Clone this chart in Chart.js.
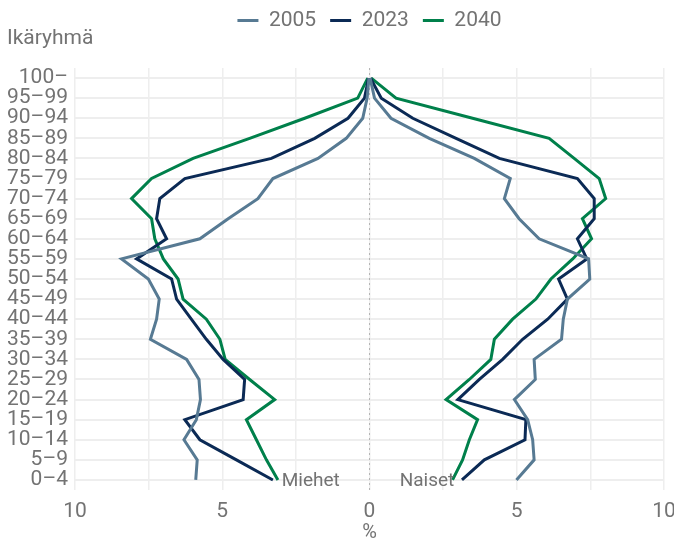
<!DOCTYPE html>
<html>
<head>
<meta charset="utf-8">
<script src="https://cdn.jsdelivr.net/npm/chart.js@4.4.1/dist/chart.umd.min.js"></script>
<style>
  html, body { margin: 0; padding: 0; background: #ffffff; }
  #wrap { width: 674px; height: 541px; position: relative; }
</style>
</head>
<body>
<div id="wrap"><canvas id="c"></canvas></div>
<script>
// Age groups, bottom to top
const ageGroups = ['0–4','5–9','10–14','15–19','20–24','25–29','30–34','35–39','40–44','45–49','50–54','55–59','60–64','65–69','70–74','75–79','80–84','85–89','90–94','95–99','100–'];
const years = ['2005', '2023', '2040'];

// Share of population (%), men (drawn on the left side)
const men2005 = [5.9, 5.85, 6.3, 5.88, 5.74, 5.79, 6.21, 7.44, 7.23, 7.14, 7.51, 8.42, 5.76, 4.8, 3.79, 3.28, 1.75, 0.79, 0.23, 0.08, 0.02];
const men2023 = [3.28, 4.52, 5.76, 6.27, 4.29, 4.24, 4.97, 5.54, 6.05, 6.55, 6.72, 7.91, 6.89, 7.23, 7.12, 6.27, 3.33, 1.86, 0.73, 0.17, 0.03];
const men2040 = [3.11, 3.5, 3.84, 4.18, 3.22, 4.07, 4.9, 5.08, 5.54, 6.33, 6.5, 7.0, 7.29, 7.4, 8.08, 7.4, 5.99, 4.07, 2.2, 0.4, 0.06];

// Share of population (%), women (drawn on the right side)
const women2005 = [4.99, 5.59, 5.54, 5.37, 4.92, 5.63, 5.59, 6.52, 6.58, 6.72, 7.48, 7.44, 5.76, 5.08, 4.58, 4.78, 3.56, 2.03, 0.73, 0.17, 0.02];
const women2023 = [3.14, 3.9, 5.28, 5.31, 3.0, 3.73, 4.52, 5.2, 6.05, 6.72, 6.42, 7.38, 7.06, 7.63, 7.63, 7.06, 4.41, 2.94, 1.47, 0.4, 0.03];
const women2040 = [2.82, 3.16, 3.39, 3.67, 2.6, 3.39, 4.12, 4.24, 4.86, 5.65, 6.16, 6.9, 7.54, 7.23, 8.02, 7.8, 6.95, 6.1, 3.5, 0.9, 0.06];

const xTicks = [-10, -7.5, -5, -2.5, 0, 2.5, 5, 7.5, 10];
const xLabelTicks = [-10, -5, 0, 5, 10];
const sideLabels = ['Miehet', 'Naiset'];

const colors = { '2005': '#577a93', '2023': '#0b2a55', '2040': '#00804b' };
const textGray = '#737373';
const FONT = "'Roboto', 'DejaVu Sans Condensed', sans-serif";

const menData = { '2005': men2005, '2023': men2023, '2040': men2040 };
const womenData = { '2005': women2005, '2023': women2023, '2040': women2040 };

const datasets = [];
years.forEach(y => {
  datasets.push({
    label: y, side: 'men',
    data: menData[y].map(v => -v),
    borderColor: colors[y], backgroundColor: colors[y],
    borderWidth: 3, pointRadius: 0, tension: 0, fill: false
  });
});
years.forEach(y => {
  datasets.push({
    label: y, side: 'women',
    data: womenData[y].slice(),
    borderColor: colors[y], backgroundColor: colors[y],
    borderWidth: 3, pointRadius: 0, tension: 0, fill: false
  });
});

const legendSpacer = {
  id: 'legendSpacer',
  beforeInit(chart) {
    const origFit = chart.legend.fit;
    chart.legend.fit = function () {
      origFit.call(this);
      this.height += 27;
    };
  }
};

const extras = {
  id: 'extras',
  beforeDatasetsDraw(chart) {
    const { ctx, chartArea, scales } = chart;
    const x0 = scales.x.getPixelForValue(0);
    ctx.save();
    ctx.strokeStyle = '#b5b5b5';
    ctx.lineWidth = 1;
    ctx.setLineDash([2, 3]);
    ctx.beginPath();
    ctx.moveTo(x0, chartArea.top);
    ctx.lineTo(x0, chartArea.bottom);
    ctx.stroke();
    ctx.restore();
  },
  afterDatasetsDraw(chart) {
    const { ctx, scales } = chart;
    const yb = scales.y.getPixelForValue(0);
    ctx.save();
    ctx.font = "19px " + FONT;
    ctx.fillStyle = textGray;
    ctx.textBaseline = 'middle';
    ctx.textAlign = 'left';
    ctx.fillText(sideLabels[0], scales.x.getPixelForValue(-2.98), yb + 1);
    ctx.textAlign = 'right';
    ctx.fillText(sideLabels[1], scales.x.getPixelForValue(2.88), yb + 1);
    ctx.restore();
  },
  afterDraw(chart) {
    const { ctx, chartArea, scales } = chart;
    ctx.save();
    ctx.fillStyle = textGray;
    ctx.textBaseline = 'middle';
    // y-axis title
    ctx.font = "21px " + FONT;
    ctx.textAlign = 'left';
    ctx.fillText('Ikäryhmä', 7, 39);
    // x tick labels (absolute values)
    ctx.textAlign = 'center';
    xLabelTicks.forEach(v => {
      ctx.fillText(String(Math.abs(v)), scales.x.getPixelForValue(v), chartArea.bottom + 22);
    });
    // x-axis title
    ctx.font = "20px " + FONT;
    ctx.fillText('%', (chartArea.left + chartArea.right) / 2, chartArea.bottom + 43);
    ctx.restore();
  }
};

new Chart(document.getElementById('c'), {
  type: 'line',
  data: { labels: ageGroups, datasets },
  plugins: [legendSpacer, extras],
  options: {
    indexAxis: 'y',
    responsive: true,
    maintainAspectRatio: false,
    animation: false,
    layout: { padding: { left: 0, right: 10, top: -4, bottom: 0 } },
    plugins: {
      legend: {
        display: true,
        position: 'top',
        fullSize: false,
        labels: {
          boxWidth: 21, boxHeight: 3,
          color: textGray,
          font: { size: 21, family: FONT },
          padding: 14,
          generateLabels(chart) {
            return chart.data.datasets
              .map((d, i) => ({
                text: d.label, fillStyle: d.borderColor, strokeStyle: d.borderColor,
                lineWidth: 0, hidden: false, datasetIndex: i, fontColor: textGray, side: d.side
              }))
              .filter(it => it.side === 'men');
          }
        }
      },
      title: { display: false },
      tooltip: { enabled: false }
    },
    scales: {
      x: {
        type: 'linear',
        min: -10, max: 10,
        afterBuildTicks(scale) { scale.ticks = xTicks.map(v => ({ value: v })); },
        afterFit(scale) { scale.height = 51; },
        ticks: { display: false },
        grid: { color: '#eeeeee', lineWidth: 1.5, drawTicks: false },
        border: { display: false },
        title: { display: false }
      },
      y: {
        type: 'category',
        reverse: true,
        offset: true,
        afterFit(scale) { scale.width = 75; },
        ticks: {
          color: textGray,
          font: { size: 21, family: FONT, lineHeight: 1 },
          padding: 7,
          autoSkip: false
        },
        grid: { color: '#eeeeee', lineWidth: 2, drawTicks: false, offset: false },
        border: { display: false },
        title: { display: false }
      }
    }
  }
});
</script>
</body>
</html>
